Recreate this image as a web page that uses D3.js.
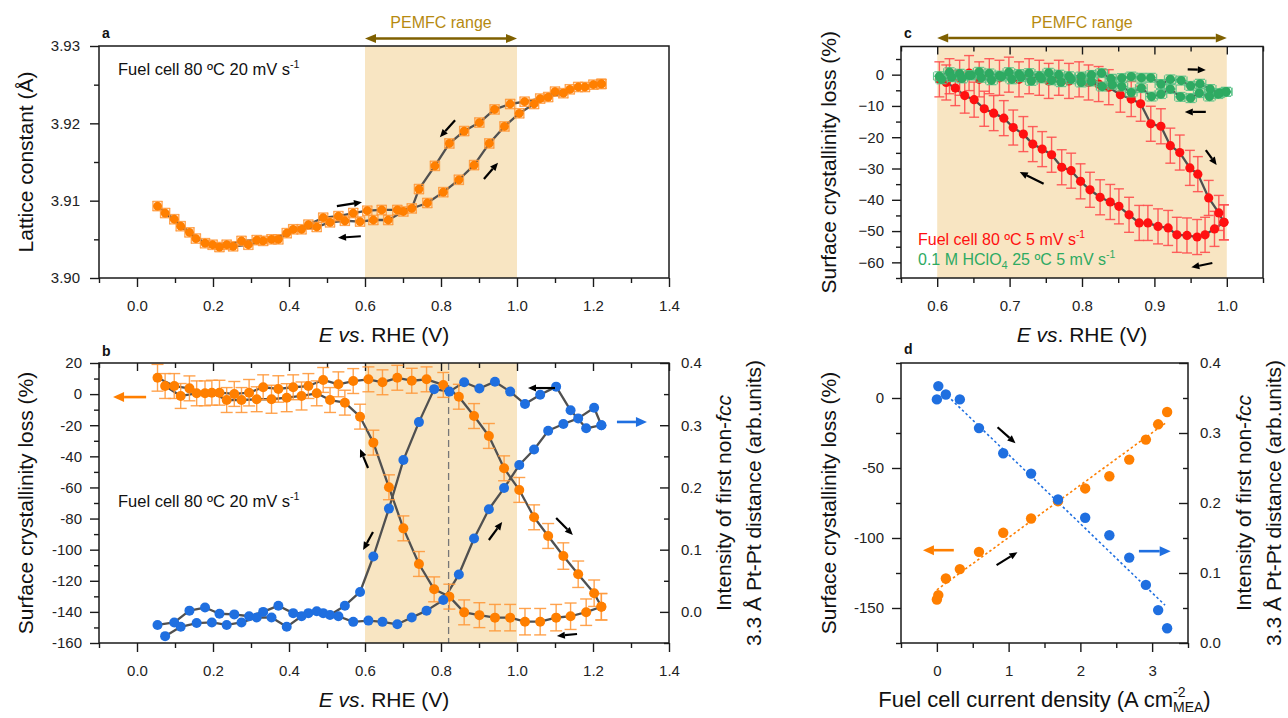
<!DOCTYPE html>
<html>
<head>
<meta charset="utf-8">
<script src="https://cdn.jsdelivr.net/npm/d3@7"></script>
<style>
body{margin:0;background:#fff;}
svg text{font-family:"Liberation Sans",Arial,Helvetica,sans-serif;}
</style>
</head>
<body>
<svg id="chart" width="1288" height="718"></svg>
<script>
// ===== Panel a: lattice constant vs potential (fuel cell, 20 mV/s) =====
const aFwdE = [0.074,0.115,0.155,0.199,0.236,0.275,0.315,0.354,0.394,0.433,0.473,0.508,0.547,0.587,0.622,0.661,0.701,0.764,0.806,0.847,0.887,0.927,0.967,1.006,1.045,1.082,1.122,1.161,1.201,1.222];
const aFwdL = [3.9084,3.9067,3.9051,3.9043,3.9043,3.9048,3.9049,3.9050,3.9058,3.9063,3.9066,3.9072,3.9074,3.9073,3.9075,3.9075,3.9086,3.9097,3.9111,3.9127,3.9146,3.9174,3.9196,3.9213,3.9225,3.9234,3.9239,3.9247,3.9250,3.9251];
const aRevE = [1.222,1.179,1.139,1.100,1.061,1.020,0.982,0.941,0.901,0.861,0.822,0.784,0.742,0.723,0.685,0.644,0.606,0.569,0.530,0.490,0.451,0.411,0.372,0.332,0.293,0.253,0.217,0.179,0.138,0.098,0.054];
const aRevL = [3.9251,3.9247,3.9244,3.9241,3.9232,3.9228,3.9225,3.9218,3.9201,3.9190,3.9174,3.9145,3.9115,3.9090,3.9088,3.9088,3.9087,3.9084,3.9080,3.9078,3.9069,3.9063,3.9050,3.9048,3.9043,3.9041,3.9040,3.9045,3.9059,3.9076,3.9093];
const aErrE = 0.012, aErrL = 0.0006;

// ===== Panel b: surface crystallinity loss (left) & non-fcc intensity (right) =====
const bFwdE = [0.054,0.098,0.138,0.179,0.217,0.256,0.295,0.332,0.372,0.411,0.451,0.490,0.530,0.569,0.609,0.646,0.685,0.723,0.762,0.806,0.847,0.887,0.926,0.966,1.006,1.045,1.082,1.122,1.161,1.203,1.222];
const bFwdLoss = [10.5,5.2,3.7,0.5,0.9,0.1,0.9,4.4,3.3,4.4,5.2,9.1,6.3,8.4,9.5,7.6,10.5,8.6,9.5,5.9,-1.7,-14.1,-26.9,-47.7,-61.6,-79.2,-91.2,-104.1,-115.8,-128.0,-136.7];
const bFwdErr = [8.6,8,8,8,8,8,8.5,8,8.5,8,8,8,8,8,8,8,8,8,8,8,8,8,8,8,8,8,8,8.5,8.5,8.5,8.5];
const bFwdInt = [-0.021,-0.017,0.002,0.007,-0.003,-0.004,-0.007,0.000,0.010,-0.002,-0.002,-0.002,-0.007,-0.016,-0.014,-0.016,-0.020,-0.009,0.002,0.019,0.060,0.118,0.165,0.199,0.236,0.261,0.291,0.302,0.311,0.328,0.300];
const bRevE = [1.222,1.182,1.141,1.103,1.061,1.021,0.982,0.942,0.901,0.861,0.822,0.782,0.742,0.701,0.663,0.622,0.587,0.547,0.508,0.473,0.433,0.394,0.354,0.315,0.275,0.236,0.197,0.157,0.115,0.074];
const bRevLoss = [-136.7,-140.2,-142.8,-143.7,-146.3,-146.3,-143.7,-143.7,-142.1,-140.3,-130.2,-125.5,-109.2,-86.3,-59.9,-31.2,-14.5,-5.5,-3.8,0.5,-1.2,-2.3,-3.3,-3.3,-3.8,-3.8,0.9,0.5,-1.2,5.2];
const bRevErr = [8.5,8.5,8.5,8.5,8.5,8.5,8.5,8.5,8,8,8,8,8,8,8,8,8,8,8,8,9,9,9,8,8,8,8,8,8,8];
const bRevInt = [0.300,0.295,0.324,0.362,0.349,0.334,0.354,0.370,0.359,0.369,0.354,0.358,0.305,0.244,0.166,0.089,0.032,0.010,-0.005,0.001,-0.007,-0.024,-0.009,-0.009,-0.017,-0.021,-0.017,-0.018,-0.024,-0.039];
const bMarkE = 0.82;

// ===== Panel c: surface crystallinity loss, 5 mV/s =====
const cRedFwdE = [0.603,0.617,0.631,0.644,0.658,0.672,0.686,0.699,0.713,0.727,0.741,0.754,0.768,0.782,0.796,0.809,0.823,0.837,0.853,0.868,0.881,0.895,0.909,0.922,0.935,0.949,0.960,0.975,0.989,0.996];
const cRedFwdL = [-1.5,-0.5,-1.0,0.5,-1.5,-0.5,-1.0,0.0,-1.5,-0.5,-1.0,-2.0,-1.0,-2.0,-1.5,-2.5,-3.0,-4.0,-6.4,-7.8,-9.3,-15.7,-16.5,-22.7,-24.9,-29.8,-31.8,-39.4,-44.2,-47.2];
const cRedRevE = [0.996,0.983,0.970,0.959,0.945,0.931,0.919,0.905,0.891,0.879,0.865,0.851,0.839,0.825,0.811,0.798,0.785,0.772,0.758,0.745,0.732,0.719,0.705,0.692,0.678,0.665,0.651,0.638,0.625,0.6125];
const cRedRevL = [-47.2,-49.3,-51.2,-51.9,-51.4,-51.2,-49.0,-48.5,-47.4,-47.4,-44.8,-42.1,-40.7,-39.2,-36.8,-34.1,-30.7,-29.6,-25.6,-23.8,-22.2,-19.0,-16.9,-13.9,-12.3,-10.9,-8.0,-6.7,-4.3,-2.5];
const cRedErr = 5.6;
const cGrnFwdE = [0.603,0.617,0.631,0.644,0.658,0.672,0.686,0.699,0.713,0.727,0.741,0.754,0.768,0.782,0.799,0.813,0.827,0.840,0.855,0.868,0.882,0.895,0.909,0.922,0.937,0.950,0.963,0.977,0.990,0.999];
const cGrnFwdL = [-0.5,0.8,0.3,-0.2,0.9,0.4,-0.3,0.8,0.2,0.5,-0.4,0.6,0.0,-0.5,-0.6,-0.1,0.5,-1.3,-1.1,-0.6,-1.0,-1.0,-3.0,-1.5,-1.9,-3.6,-2.9,-4.6,-5.9,-5.5];
const cGrnRevE = [0.999,0.988,0.976,0.962,0.950,0.936,0.922,0.909,0.896,0.882,0.868,0.855,0.842,0.828,0.813,0.799,0.785,0.771,0.758,0.744,0.730,0.716,0.703,0.689,0.675,0.661,0.647,0.634,0.620,0.606];
const cGrnRevL = [-5.5,-6.2,-7.0,-5.9,-7.5,-7.1,-4.6,-6.2,-7.0,-4.3,-5.7,-3.8,-3.2,-3.8,-2.2,-2.5,-1.5,-2.4,-1.8,-1.2,-2.0,-0.8,-1.5,-0.6,-1.8,-1.0,-0.2,-1.2,-0.8,-1.5];
const cGrnErrL = 1.4, cGrnErrE = 0.008;

// ===== Panel d: vs fuel cell current density =====
const dJ = [0.0,0.02,0.125,0.32,0.587,0.925,1.313,1.688,2.067,2.404,2.681,2.913,3.084,3.209];
const dLoss = [-143.9,-140.8,-128.9,-122.2,-109.9,-96.3,-86.1,-73.7,-64.6,-55.9,-44.0,-29.7,-18.8,-10.0];
const dInt = [0.348,0.367,0.355,0.348,0.307,0.271,0.242,0.205,0.179,0.154,0.122,0.083,0.047,0.021];
const dLossFitJ = [0.0,3.21], dLossFit = [-137,-17];
const dIntFitJ = [0.2,3.18], dIntFit = [0.348,0.054];

// ===== tick values =====
const abXMajor = [0,0.2,0.4,0.6,0.8,1.0,1.2,1.4], abXMinor = [-0.1,0.1,0.3,0.5,0.7,0.9,1.1,1.3];
const aYMajor = [3.90,3.91,3.92,3.93], aYMinor = [3.905,3.915,3.925];
const bYMajor = [-160,-140,-120,-100,-80,-60,-40,-20,0,20], bYMinor = [-150,-130,-110,-90,-70,-50,-30,-10,10];
const rYMajor = [0,0.1,0.2,0.3,0.4], rYMinorB = [-0.05,0.05,0.15,0.25,0.35], rYMinorD = [0.05,0.15,0.25,0.35];
const cXMajor = [0.6,0.7,0.8,0.9,1.0], cXMinor = [0.55,0.65,0.75,0.85,0.95,1.05];
const cYMajor = [-60,-50,-40,-30,-20,-10,0], cYMinor = [-65,-55,-45,-35,-25,-15,-5,5];
const dXMajor = [0,1,2,3], dXMinor = [-0.5,0.5,1.5,2.5,3.5];
const dYMajor = [-150,-100,-50,0], dYMinor = [-175,-125,-75,-25,25];

// ===== colours =====
const ORANGE = "#ff7f00", ORANGE_ERR = "#ff9a3c", BLUE = "#1f6fe0", RED = "#ff1010", RED_ERR = "#ff5050",
      GREEN = "#2eaa62", GREEN_ERR = "#5cc48a", LINE = "#505050", SHADE = "#f8e5c2", GOLD_T = "#b68a10", GOLD_A = "#7f6000";

const svg = d3.select("#chart");
const FS = 15, TS = 21;

function frame(g, x0, x1, y0, y1) {
  g.append("rect").attr("x", x0).attr("y", y0).attr("width", x1 - x0).attr("height", y1 - y0)
    .attr("fill", "none").attr("stroke", "#1a1a1a").attr("stroke-width", 1.5);
}
function axis(g, gen, tr) {
  const a = g.append("g").attr("transform", tr).call(gen);
  a.select(".domain").remove();
  a.selectAll("line").attr("stroke", "#1a1a1a").attr("stroke-width", 1.4);
  a.selectAll("text").attr("font-size", FS).attr("fill", "#222").style("font-family", '"Liberation Sans", Arial, sans-serif');
  return a;
}
function arrow(g, x1, y1, x2, y2, color, w, hl, hw, both) {
  const dx = x2 - x1, dy = y2 - y1, L = Math.hypot(dx, dy), ux = dx / L, uy = dy / L;
  const bx = x2 - ux * hl, by = y2 - uy * hl;
  const sx = both ? x1 + ux * hl : x1, sy = both ? y1 + uy * hl : y1;
  g.append("line").attr("x1", sx).attr("y1", sy).attr("x2", bx).attr("y2", by).attr("stroke", color).attr("stroke-width", w);
  const head = (tx, ty, px, py, vx, vy) => g.append("polygon").attr("fill", color)
    .attr("points", `${tx},${ty} ${px - vy * hw / 2},${py + vx * hw / 2} ${px + vy * hw / 2},${py - vx * hw / 2}`);
  head(x2, y2, bx, by, ux, uy);
  if (both) head(x1, y1, sx, sy, -ux, -uy);
}
function zipPts(E, V) { return E.map((e, i) => [e, V[i]]); }
function path(g, pts, x, y) {
  g.append("path").attr("d", d3.line().x(d => x(d[0])).y(d => y(d[1]))(pts))
    .attr("fill", "none").attr("stroke", LINE).attr("stroke-width", 2.3).attr("stroke-linejoin", "round");
}
function vErr(g, pts, errs, x, y, color, cap, w, op) {
  pts.forEach((d, i) => {
    const e = Array.isArray(errs) ? errs[i] : errs;
    const cx = x(d[0]), y1 = y(d[1] - e), y2 = y(d[1] + e);
    g.append("line").attr("x1", cx).attr("x2", cx).attr("y1", y1).attr("y2", y2).attr("stroke", color).attr("stroke-width", w).attr("opacity", op);
    [y1, y2].forEach(yy => g.append("line").attr("x1", cx - cap).attr("x2", cx + cap).attr("y1", yy).attr("y2", yy).attr("stroke", color).attr("stroke-width", w).attr("opacity", op));
  });
}
function hErr(g, pts, e, x, y, color, cap, w, op) {
  pts.forEach(d => {
    const cy = y(d[1]), x1 = x(d[0] - e), x2 = x(d[0] + e);
    g.append("line").attr("x1", x1).attr("x2", x2).attr("y1", cy).attr("y2", cy).attr("stroke", color).attr("stroke-width", w).attr("opacity", op);
    [x1, x2].forEach(xx => g.append("line").attr("x1", xx).attr("x2", xx).attr("y1", cy - cap).attr("y2", cy + cap).attr("stroke", color).attr("stroke-width", w).attr("opacity", op));
  });
}
function dots(g, pts, x, y, color, r) {
  g.selectAll(null).data(pts).enter().append("circle")
    .attr("cx", d => x(d[0])).attr("cy", d => y(d[1])).attr("r", r).attr("fill", color);
}
function ttl(g, x, y, rot, parts, size) {
  const t = g.append("text").attr("transform", `translate(${x},${y}) rotate(${rot})`).attr("text-anchor", "middle")
    .attr("font-size", size || TS).attr("fill", "#111");
  parts.forEach(p => {
    const s = t.append("tspan").text(p.t);
    if (p.i) s.attr("font-style", "italic");
  });
  return t;
}
function exprText(g, x, y, main, sup, color, size) {
  const t = g.append("text").attr("x", x).attr("y", y).attr("font-size", size).attr("fill", color);
  t.append("tspan").text(main);
  t.append("tspan").text(sup).attr("font-size", size * 0.65).attr("dy", -size * 0.42);
  return t;
}
function letter(g, x, y, s) {
  g.append("text").attr("x", x).attr("y", y).attr("font-size", 14).attr("font-weight", "bold").attr("fill", "#111").text(s);
}
const fmt1 = d3.format(".1f"), fmt2 = d3.format(".2f");
const hy = d => String(d);

// ================= Panel a =================
{
  const g = svg.append("g");
  const L = 99, R = 669, T = 46, B = 278;
  const x = d3.scaleLinear([-0.1, 1.4], [L, R]);
  const y = d3.scaleLinear([3.90, 3.93], [B, T]);
  g.append("rect").attr("x", x(0.6)).attr("y", T).attr("width", x(1.0) - x(0.6)).attr("height", B - T).attr("fill", SHADE);
  axis(g, d3.axisBottom(x).tickValues(abXMajor).tickSize(9).tickPadding(13).tickFormat(fmt1), `translate(0,${B})`);
  axis(g, d3.axisBottom(x).tickValues(abXMinor).tickSize(5).tickFormat(""), `translate(0,${B})`);
  axis(g, d3.axisLeft(y).tickValues(aYMajor).tickSize(9).tickPadding(10).tickFormat(fmt2), `translate(${L},0)`);
  axis(g, d3.axisLeft(y).tickValues(aYMinor).tickSize(5).tickFormat(""), `translate(${L},0)`);
  const pts = zipPts(aFwdE, aFwdL).concat(zipPts(aRevE, aRevL));
  path(g, pts, x, y);
  vErr(g, pts, aErrL, x, y, ORANGE_ERR, 5, 1.4, 0.85);
  hErr(g, pts, aErrE, x, y, ORANGE_ERR, 5, 1.4, 0.85);
  dots(g, pts, x, y, ORANGE, 4.4);
  frame(g, L, R, T, B);
  arrow(g, x(0.526), y(3.9093), x(0.592), y(3.9098), "#000", 2.2, 8, 7);
  arrow(g, x(0.589), y(3.9054), x(0.529), y(3.9052), "#000", 2.2, 8, 7);
  arrow(g, x(0.837), y(3.9204), x(0.797), y(3.9182), "#000", 2.2, 8, 7);
  arrow(g, x(0.913), y(3.9128), x(0.950), y(3.9149), "#000", 2.2, 8, 7);
  arrow(g, x(0.6), 38.5, x(1.0), 38.5, GOLD_A, 2.6, 11, 9, true);
  g.append("text").attr("x", (x(0.6) + x(1.0)) / 2).attr("y", 28).attr("text-anchor", "middle").attr("font-size", 16).attr("fill", GOLD_T).text("PEMFC range");
  exprText(g, 118, 75, "Fuel cell 80 ºC 20 mV s", "-1", "#111", 16.5);
  letter(g, 102, 38, "a");
  ttl(g, 33, (T + B) / 2, -90, [{t: "Lattice constant (Å)"}]);
  ttl(g, (L + R) / 2, 342, 0, [{t: "E", i: 1}, {t: " "}, {t: "vs", i: 1}, {t: ". RHE (V)"}]);
}

// ================= Panel b =================
{
  const g = svg.append("g");
  const L = 99, R = 669, T = 363, B = 643;
  const x = d3.scaleLinear([-0.1, 1.4], [L, R]);
  const y = d3.scaleLinear([-160, 20], [B, T]);
  const y2 = d3.scaleLinear([-0.05, 0.4], [B, T]);
  g.append("rect").attr("x", x(0.6)).attr("y", T).attr("width", x(1.0) - x(0.6)).attr("height", B - T).attr("fill", SHADE);
  g.append("line").attr("x1", x(bMarkE)).attr("x2", x(bMarkE)).attr("y1", T).attr("y2", B).attr("stroke", "#777").attr("stroke-width", 1.3).attr("stroke-dasharray", "7,4");
  axis(g, d3.axisBottom(x).tickValues(abXMajor).tickSize(9).tickPadding(13).tickFormat(fmt1), `translate(0,${B})`);
  axis(g, d3.axisBottom(x).tickValues(abXMinor).tickSize(5).tickFormat(""), `translate(0,${B})`);
  axis(g, d3.axisTop(x).tickValues(abXMajor).tickSize(-8).tickFormat(""), `translate(0,${T})`);
  axis(g, d3.axisTop(x).tickValues(abXMinor).tickSize(-5).tickFormat(""), `translate(0,${T})`);
  axis(g, d3.axisLeft(y).tickValues(bYMajor).tickSize(9).tickPadding(8).tickFormat(hy), `translate(${L},0)`);
  axis(g, d3.axisLeft(y).tickValues(bYMinor).tickSize(5).tickFormat(""), `translate(${L},0)`);
  axis(g, d3.axisRight(y2).tickValues(rYMajor).tickSize(-9).tickPadding(12).tickFormat(fmt1), `translate(${R},0)`);
  axis(g, d3.axisRight(y2).tickValues(rYMinorB).tickSize(-5).tickFormat(""), `translate(${R},0)`);
  const op = zipPts(bFwdE, bFwdLoss).concat(zipPts(bRevE, bRevLoss));
  const oe = bFwdErr.concat(bRevErr);
  const bp = zipPts(bFwdE, bFwdInt).concat(zipPts(bRevE, bRevInt));
  path(g, op, x, y);
  path(g, bp, x, y2);
  vErr(g, op, oe, x, y, ORANGE_ERR, 6, 1.4, 0.9);
  dots(g, op, x, y, ORANGE, 5);
  dots(g, bp, x, y2, BLUE, 5);
  frame(g, L, R, T, B);
  arrow(g, x(0.608), y(-47.5), x(0.587), y(-35.3), "#000", 2.2, 8, 7);
  arrow(g, x(0.621), y(-88.6), x(0.595), y(-100.2), "#000", 2.2, 8, 7);
  arrow(g, x(0.926), y(-93.8), x(0.961), y(-82.2), "#000", 2.2, 8, 7);
  arrow(g, x(1.103), y(-79.6), x(1.147), y(-90.6), "#000", 2.2, 8, 7);
  arrow(g, x(1.100), y(3.9), x(1.029), y(3.9), "#000", 2.2, 8, 7);
  arrow(g, x(1.158), y(-154.2), x(1.105), y(-155.5), "#000", 2.2, 8, 7);
  arrow(g, x(0.024), y(-1.9), x(-0.063), y(-1.9), ORANGE, 2.6, 11, 10);
  arrow(g, x(1.263), y(-17.9), x(1.342), y(-17.9), BLUE, 2.6, 11, 10);
  exprText(g, 118, 507, "Fuel cell 80 ºC 20 mV s", "-1", "#111", 16.5);
  letter(g, 102, 356, "b");
  ttl(g, 33, (T + B) / 2, -90, [{t: "Surface crystallinity loss (%)"}]);
  ttl(g, 731, (T + B) / 2, -90, [{t: "Intensity of first non-"}, {t: "fcc", i: 1}]);
  ttl(g, 761, (T + B) / 2, -90, [{t: "3.3 Å Pt-Pt distance (arb.units)"}]);
  ttl(g, (L + R) / 2, 707, 0, [{t: "E", i: 1}, {t: " "}, {t: "vs", i: 1}, {t: ". RHE (V)"}]);
}

// ================= Panel c =================
{
  const g = svg.append("g");
  const L = 901, R = 1263, T = 46.5, B = 278;
  const x = d3.scaleLinear([0.55, 1.05], [L, R]);
  const y = d3.scaleLinear([-65, 9], [B, T]);
  g.append("rect").attr("x", x(0.6)).attr("y", T).attr("width", x(1.0) - x(0.6)).attr("height", B - T).attr("fill", SHADE);
  axis(g, d3.axisBottom(x).tickValues(cXMajor).tickSize(9).tickPadding(13).tickFormat(fmt1), `translate(0,${B})`);
  axis(g, d3.axisBottom(x).tickValues(cXMinor).tickSize(5).tickFormat(""), `translate(0,${B})`);
  axis(g, d3.axisTop(x).tickValues(cXMajor).tickSize(-8).tickFormat(""), `translate(0,${T})`);
  axis(g, d3.axisTop(x).tickValues(cXMinor).tickSize(-5).tickFormat(""), `translate(0,${T})`);
  axis(g, d3.axisLeft(y).tickValues(cYMajor).tickSize(9).tickPadding(8).tickFormat(d => d < 0 ? "\u2212" + Math.abs(d) : String(d)), `translate(${L},0)`);
  axis(g, d3.axisLeft(y).tickValues(cYMinor).tickSize(5).tickFormat(""), `translate(${L},0)`);
  const rp = zipPts(cRedFwdE, cRedFwdL).concat(zipPts(cRedRevE, cRedRevL));
  path(g, rp, x, y);
  vErr(g, rp, cRedErr, x, y, RED_ERR, 5, 1.4, 0.9);
  dots(g, rp, x, y, RED, 4.6);
  const gp = zipPts(cGrnFwdE, cGrnFwdL).concat(zipPts(cGrnRevE, cGrnRevL));
  path(g, gp, x, y);
  vErr(g, gp, cGrnErrL, x, y, GREEN_ERR, 5, 1.3, 0.9);
  hErr(g, gp, cGrnErrE, x, y, GREEN_ERR, 4, 1.3, 0.9);
  dots(g, gp, x, y, GREEN, 4.6);
  frame(g, L, R, T, B);
  arrow(g, x(0.747), y(-34.9), x(0.714), y(-31.1), "#000", 2.2, 8, 7);
  arrow(g, x(0.946), y(1.7), x(0.971), y(1.5), "#000", 2.2, 8, 7);
  arrow(g, x(0.971), y(-11.9), x(0.942), y(-11.9), "#000", 2.2, 8, 7);
  arrow(g, x(0.971), y(-24.1), x(0.986), y(-28.9), "#000", 2.2, 8, 7);
  arrow(g, x(0.980), y(-60.2), x(0.951), y(-61.6), "#000", 2.2, 8, 7);
  arrow(g, x(0.6), 38, x(1.0), 38, GOLD_A, 2.6, 11, 9, true);
  g.append("text").attr("x", (x(0.6) + x(1.0)) / 2).attr("y", 28).attr("text-anchor", "middle").attr("font-size", 16).attr("fill", GOLD_T).text("PEMFC range");
  exprText(g, 918, 245, "Fuel cell 80 ºC 5 mV s", "-1", RED, 16);
  {
    const t = g.append("text").attr("x", 918).attr("y", 265).attr("font-size", 16).attr("fill", GREEN);
    t.append("tspan").text("0.1 M HClO");
    t.append("tspan").text("4").attr("font-size", 11).attr("dy", 4);
    t.append("tspan").text(" 25 ºC 5 mV s").attr("dy", -4);
    t.append("tspan").text("-1").attr("font-size", 10.5).attr("dy", -7);
  }
  letter(g, 904, 38, "c");
  ttl(g, 836, (T + B) / 2, -90, [{t: "Surface crystallinity loss (%)"}]);
  ttl(g, (L + R) / 2, 342, 0, [{t: "E", i: 1}, {t: " "}, {t: "vs", i: 1}, {t: ". RHE (V)"}]);
}

// ================= Panel d =================
{
  const g = svg.append("g");
  const L = 901, R = 1188, T = 363, B = 643;
  const x = d3.scaleLinear([-0.5, 3.5], [L, R]);
  const y = d3.scaleLinear([-175, 25], [B, T]);
  const y2 = d3.scaleLinear([0, 0.4], [B, T]);
  axis(g, d3.axisBottom(x).tickValues(dXMajor).tickSize(9).tickPadding(13).tickFormat(hy), `translate(0,${B})`);
  axis(g, d3.axisBottom(x).tickValues(dXMinor).tickSize(5).tickFormat(""), `translate(0,${B})`);
  axis(g, d3.axisLeft(y).tickValues(dYMajor).tickSize(9).tickPadding(8).tickFormat(hy), `translate(${L},0)`);
  axis(g, d3.axisLeft(y).tickValues(dYMinor).tickSize(5).tickFormat(""), `translate(${L},0)`);
  axis(g, d3.axisRight(y2).tickValues(rYMajor).tickSize(-9).tickPadding(12).tickFormat(fmt1), `translate(${R},0)`);
  axis(g, d3.axisRight(y2).tickValues(rYMinorD).tickSize(-5).tickFormat(""), `translate(${R},0)`);
  g.append("path").attr("d", d3.line().x(d => x(d[0])).y(d => y(d[1]))(zipPts(dLossFitJ, dLossFit)))
    .attr("stroke", ORANGE).attr("stroke-width", 1.6).attr("stroke-dasharray", "2.5,2.5").attr("fill", "none");
  g.append("path").attr("d", d3.line().x(d => x(d[0])).y(d => y2(d[1]))(zipPts(dIntFitJ, dIntFit)))
    .attr("stroke", BLUE).attr("stroke-width", 1.6).attr("stroke-dasharray", "2.5,2.5").attr("fill", "none");
  dots(g, zipPts(dJ, dLoss), x, y, ORANGE, 5.2);
  dots(g, zipPts(dJ, dInt), x, y2, BLUE, 5.2);
  frame(g, L, R, T, B);
  arrow(g, x(0.846), y(-20.9), x(1.096), y(-32.3), "#000", 2.2, 8, 7);
  arrow(g, x(0.832), y(-119.4), x(1.123), y(-110.1), "#000", 2.2, 8, 7);
  arrow(g, x(0.236), y(-108.7), x(-0.194), y(-108.7), ORANGE, 2.6, 11, 10);
  arrow(g, x(2.816), y(-109.4), x(3.259), y(-109.4), BLUE, 2.6, 11, 10);
  letter(g, 904, 354, "d");
  ttl(g, 836, (T + B) / 2, -90, [{t: "Surface crystallinity loss (%)"}]);
  ttl(g, 1251, (T + B) / 2, -90, [{t: "Intensity of first non-"}, {t: "fcc", i: 1}]);
  ttl(g, 1281, (T + B) / 2, -90, [{t: "3.3 Å Pt-Pt distance (arb.units)"}]);
  const t = g.append("text").attr("y", 707).attr("font-size", 22).attr("fill", "#111");
  t.append("tspan").text("Fuel cell current density (A cm");
  const sp = t.append("tspan").text("-2").attr("font-size", 14).attr("dy", -10);
  const sb = t.append("tspan").text("MEA").attr("font-size", 14).attr("dy", 15);
  const cl = t.append("tspan").text(")").attr("dy", -5);
  const w2 = sp.node().getComputedTextLength();
  sb.attr("dx", -w2);
  const tw = t.node().getComputedTextLength() - w2;
  t.attr("x", (L + R) / 2 - tw / 2);
}
</script>
</body>
</html>
